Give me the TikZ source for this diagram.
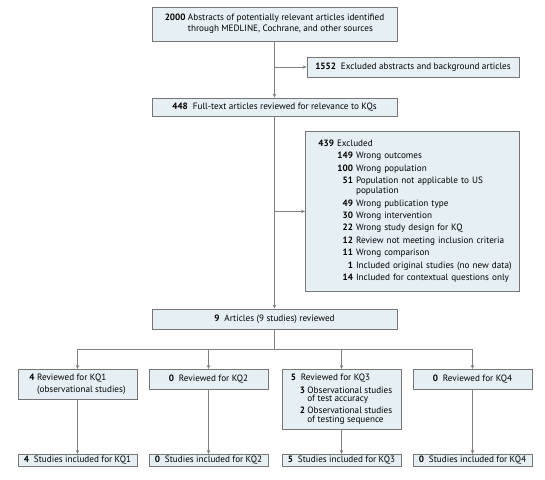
\documentclass[tikz,border=0pt]{standalone}
\usepackage{fontspec}
\setmainfont{PT Sans}
\usetikzlibrary{arrows.meta,positioning}
\definecolor{boxfill}{HTML}{E6F0F4}
\definecolor{boxline}{HTML}{767676}
\definecolor{flowline}{HTML}{7F7F7F}
\newcommand{\nb}[1]{\textbf{#1}}
\newcommand{\gap}{\\[2pt]}

\begin{document}
\begin{tikzpicture}[x=1bp,y=-1bp]
		\tikzstyle{box}=[rectangle, draw=boxline, fill=boxfill, line width=0.8bp, inner sep=0pt, minimum width=119bp, align=center, font=\fontsize{9.2}{10.5}\selectfont]
		\tikzstyle{connect}=[draw=flowline, line width=0.8bp]
		\tikzstyle{arrow}=[connect, -{Stealth[length=4bp,width=3.5bp]}]
		\useasboundingbox (0,0) rectangle (545,480);
		
		% main column
		\node[box, minimum width=245bp, minimum height=34bp] (abs) at (274.5,24) {\begin{tabular}{@{}l@{\ }l@{}}
			\nb{2000} & Abstracts of potentially relevant articles identified\\[0.5pt]
			& through MEDLINE, Cochrane, and other sources\end{tabular}};
		\node[box, minimum width=245bp, minimum height=18bp] (full) at (274.5,107) {\nb{448}\ \ Full-text articles reviewed for relevance to KQs};
		\node[box, minimum width=245bp, minimum height=20bp] (rev) at (274.5,319) {\nb{9}\ \ Articles (9 studies) reviewed};
		
		% exclusions
		\node[box, minimum width=212bp, minimum height=20bp] (exab) at (413,67) {\nb{1552}\ \ Excluded abstracts and background articles};
		\node[box, anchor=north west, text width=214bp, minimum height=160bp, align=left] (exfull) at (305,131) {\hspace*{13bp}\begin{tabular}{@{}p{19bp}@{}r@{\ }l@{}}
			\multicolumn{3}{@{}l@{}}{\nb{439} Excluded}\gap
			& \nb{149} & Wrong outcomes\gap
			& \nb{100} & Wrong population\gap
			& \nb{51} & Population not applicable to US\\[-0.5pt]
			& & population\gap
			& \nb{49} & Wrong publication type\gap
			& \nb{30} & Wrong intervention\gap
			& \nb{22} & Wrong study design for KQ\gap
			& \nb{12} & Review not meeting inclusion criteria\gap
			& \nb{11} & Wrong comparison\gap
			& \nb{1} & Included original studies (no new data)\gap
			& \nb{14} & Included for contextual questions only
			\end{tabular}};
		
		% key questions
		\node[box, anchor=north, minimum height=30bp] (kq1) at (77.5,369) {\begin{tabular}{@{}l@{\ }l@{}}
			\nb{4} & Reviewed for KQ1\\[0.8pt]
			& (observational studies)\end{tabular}};
		\node[box, anchor=north, minimum height=20bp] (kq2) at (208.5,369) {\nb{0}\ \ Reviewed for KQ2};
		\node[box, anchor=north, minimum height=60bp] (kq3) at (341.5,369) {\begin{tabular}{@{}p{9bp}@{}l@{\ }l@{}}
			\multicolumn{3}{@{}l@{}}{\nb{5}\ \ Reviewed for KQ3}\\[2.5pt]
			& \nb{3} & Observational studies\\[-1.5pt]
			& & of test accuracy\\[1.5pt]
			& \nb{2} & Observational studies\\[-1.5pt]
			& & of testing sequence\end{tabular}};
		\node[box, anchor=north, minimum height=20bp] (kq4) at (472.5,369) {\nb{0}\ \ Reviewed for KQ4};
		
		% included
		\node[box, anchor=north, minimum height=12bp] (inc1) at (77.5,454) {\nb{4}\ \ Studies included for KQ1};
		\node[box, anchor=north, minimum height=12bp] (inc2) at (208.5,454) {\nb{0}\ \ Studies included for KQ2};
		\node[box, anchor=north, minimum height=12bp] (inc3) at (341.5,454) {\nb{5}\ \ Studies included for KQ3};
		\node[box, anchor=north, minimum height=12bp] (inc4) at (472.5,454) {\nb{0}\ \ Studies included for KQ4};
		
		\coordinate (split) at (274.5,349);
		
		\draw[arrow] (abs) -- (full);
		\draw[arrow] (abs.south |- exab.west) -- (exab.west);
		\draw[arrow] (full) -- (rev);
		\draw[arrow] (full.south |- exfull.west) -- (exfull.west);
		\draw[connect] (rev) -- (split);
		\draw[connect] (kq1.north |- split) -- (kq4.north |- split);
		\foreach \i in {1,...,4} {
			\draw[arrow] (kq\i.north |- split) -- (kq\i);
			\draw[arrow] (kq\i) -- (inc\i);
		}
		
\end{tikzpicture}
\end{document}
